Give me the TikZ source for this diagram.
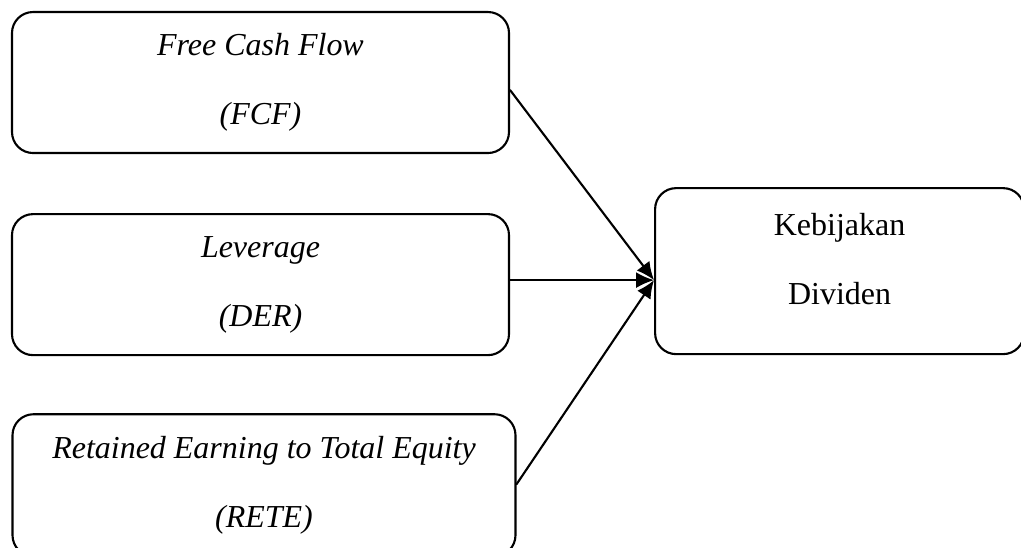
\documentclass[tikz,border=0pt]{standalone}
\usepackage{fontspec}
\setmainfont{Liberation Serif}
\usepackage{tikz}
\usetikzlibrary{arrows.meta,positioning}
\tikzset{
every picture/.style={line cap=round,line join=round},
var box/.style={
  draw=black,
  rounded corners=0.21cm,
  line width=0.6pt,
  align=center,
  inner sep=0pt,
  font=\fontsize{9.1}{19.6}\selectfont
},
left box/.style={var box, minimum width=4.97cm, minimum height=1.41cm},
fig flow/.style={
  draw=black,
  -{Latex[length=0.18cm,width=0.16cm]},
  line width=0.6pt
}
}
\begin{document}
\begin{tikzpicture}[
node distance=0.59cm and 1.44cm,
]
\useasboundingbox (0,0) rectangle (10.21,-5.47);
\node[left box] (fcf) at (2.605,-0.825) {\textit{Free Cash Flow}\\\textit{(FCF)}};
\node[left box,below=of fcf] (der) {\textit{Leverage}\\\textit{(DER)}};
\node[left box,minimum width=5.03cm,minimum height=1.42cm,below=0.57cm of der.south,xshift=0.035cm] (rete) {\textit{Retained Earning to Total Equity}\\\textit{(RETE)}};
\node[var box,minimum width=3.69cm,minimum height=1.66cm,text depth=0.25cm,right=of der,yshift=0.135cm] (kd) {Kebijakan\\Dividen};
\coordinate (hub) at ([yshift=-0.09cm]kd.west);
\draw[fig flow] ([yshift=-0.075cm]fcf.east) -- (hub);
\draw[fig flow] (der.east |- hub) -- (hub);
\draw[fig flow] ([yshift=0.01cm]rete.east) -- (hub);
\end{tikzpicture}
\end{document}
